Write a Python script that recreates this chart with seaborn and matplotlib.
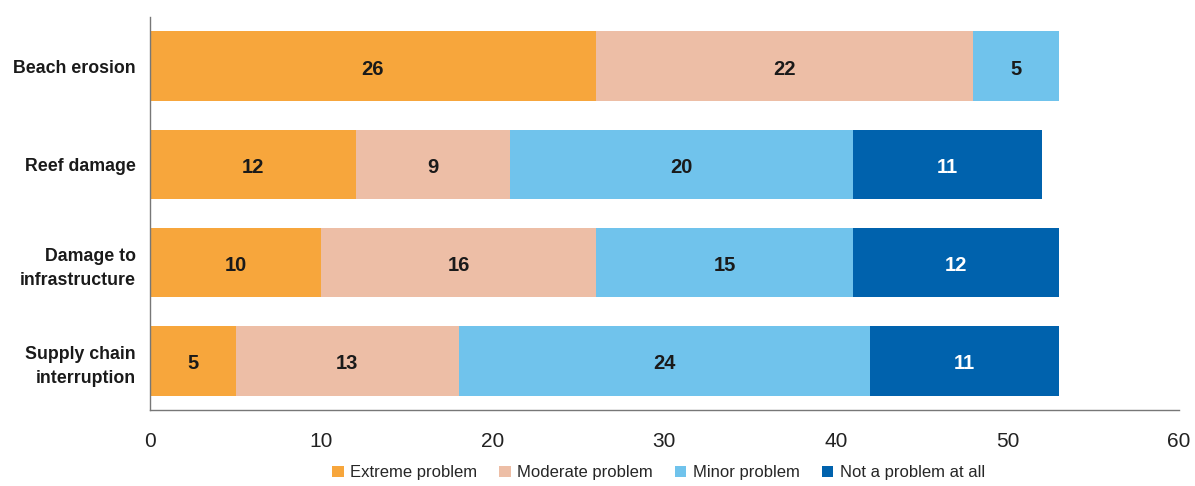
import matplotlib
matplotlib.use("Agg")
import matplotlib.pyplot as plt
from matplotlib.patches import Patch
import numpy as np
import pandas as pd
import seaborn as sns

categories = ["Beach erosion", "Reef damage", "Damage to\ninfrastructure", "Supply chain\ninterruption"]
series_names = ["Extreme problem", "Moderate problem", "Minor problem", "Not a problem at all"]
extreme = [26, 12, 10, 5]
moderate = [22, 9, 16, 13]
minor = [5, 20, 15, 24]
not_problem = [0, 11, 12, 11]
colors = ["#F7A63C", "#EDBEA6", "#70C3EC", "#0062AD"]
label_colors = ["#1a1a1a", "#1a1a1a", "#1a1a1a", "white"]
x_ticks = [0, 10, 20, 30, 40, 50, 60]

sns.set_theme(style="white")
plt.rcParams["font.family"] = ["Liberation Sans", "DejaVu Sans"]

values = np.array([extreme, moderate, minor, not_problem], dtype=float)
cum = np.cumsum(values, axis=0)

fig = plt.figure(figsize=(11.95, 4.86), dpi=100)
ax = fig.add_axes([0.1255, 0.1564, 0.861, 0.8086])

# Stacked bars: draw cumulative totals from the outermost segment inward
for i in range(len(series_names) - 1, -1, -1):
    df = pd.DataFrame({"cat": categories, "val": cum[i]})
    sns.barplot(data=df, x="val", y="cat", orient="h", color=colors[i],
                saturation=1, width=0.71, ax=ax, linewidth=0)

# Segment value labels
for i in range(len(series_names)):
    for j in range(len(categories)):
        v = values[i, j]
        if v <= 0:
            continue
        ax.text(cum[i, j] - v / 2, j + 0.03, f"{int(v)}", ha="center", va="center",
                fontsize=14.5, fontweight="bold", color=label_colors[i])

ax.set_xlim(0, 60)
ax.set_ylim(3.5, -0.5)
ax.set_xticks(x_ticks)
ax.set_xticklabels([str(t) for t in x_ticks], fontsize=15, color="#222222")
ax.set_xlabel("")
ax.set_ylabel("")
ax.tick_params(axis="x", direction="in", length=8, width=1, color="#777777", pad=16)
ax.tick_params(axis="y", length=0, pad=10)
for lbl in ax.get_yticklabels():
    lbl.set_fontweight("bold")
    lbl.set_fontsize(12.8)
    lbl.set_color("#1a1a1a")
    lbl.set_multialignment("right")
    lbl.set_linespacing(1.55)

for side in ["top", "right"]:
    ax.spines[side].set_visible(False)
for side in ["left", "bottom"]:
    ax.spines[side].set_color("#777777")
    ax.spines[side].set_linewidth(1)

handles = [Patch(facecolor=c, edgecolor="none", label=n) for c, n in zip(colors, series_names)]
fig.legend(handles=handles, loc="center", bbox_to_anchor=(0.551, 0.027), ncol=4,
           frameon=False, fontsize=12, handlelength=0.7, handleheight=0.7,
           handletextpad=0.4, columnspacing=1.3)

fig.savefig("out.png", dpi=100)
